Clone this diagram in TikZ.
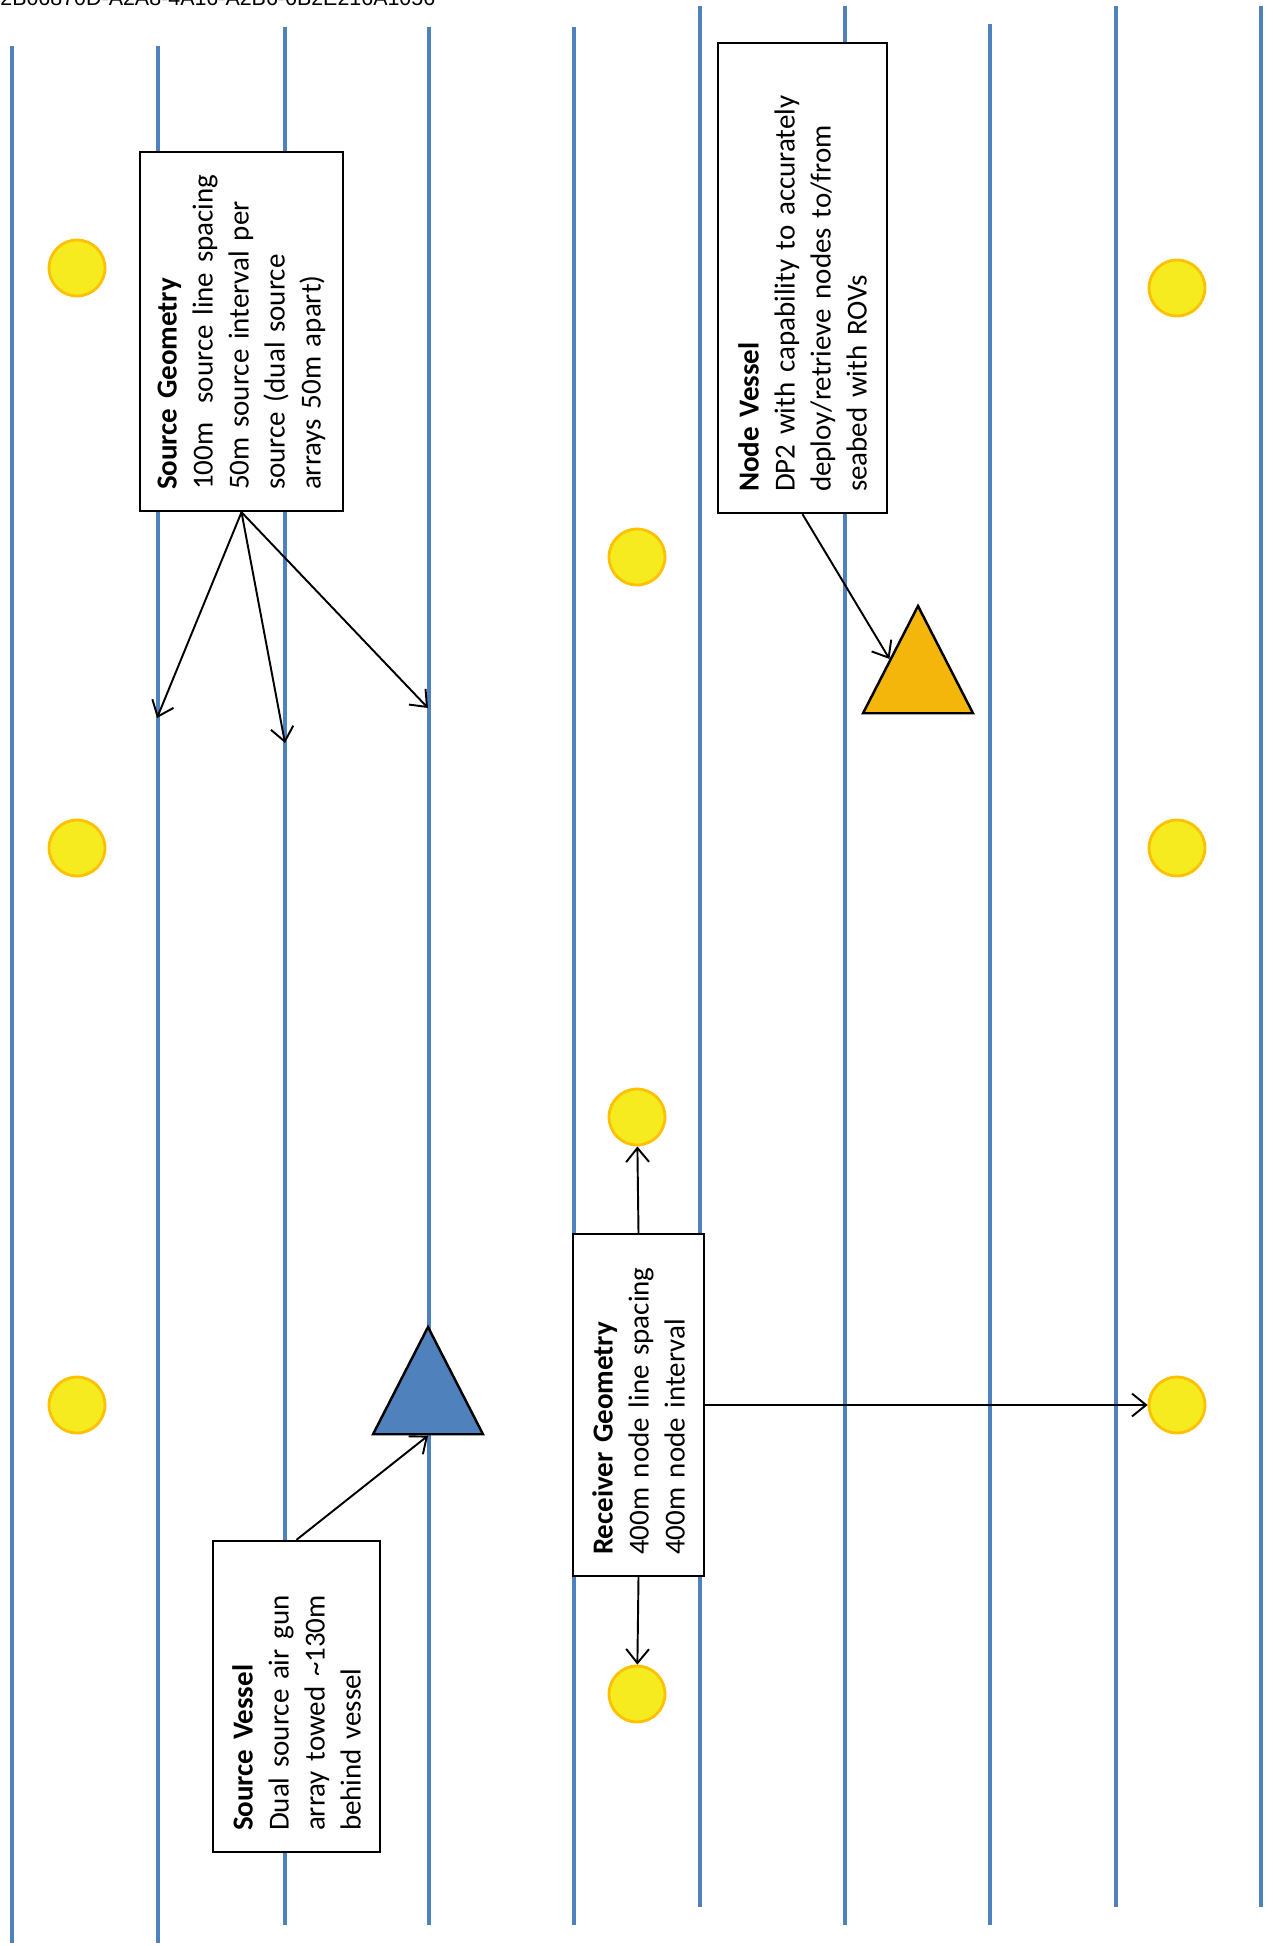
\documentclass[tikz,border=0pt]{standalone}
\usepackage{fontspec}
\setmainfont{Carlito}
\newfontfamily\guidfont{Liberation Sans}
\usetikzlibrary{shapes.geometric,arrows.meta}

\definecolor{lineblue}{RGB}{79,129,189}
\definecolor{buoyyellow}{RGB}{245,235,30}
\definecolor{buoyorange}{RGB}{255,192,0}
\definecolor{vesselorange}{RGB}{245,182,12}

\tikzset{
  gridline/.style={lineblue, line width=2.6pt},
  buoy/.style={circle, fill=buoyyellow, draw=buoyorange, line width=1.6pt, minimum size=1.12cm, inner sep=0pt},
  infobox/.style={draw, fill=white, line width=1.4pt, rotate=90, align=left, inner xsep=0.42cm, inner ysep=0.1cm, font=\fontsize{16.5}{20.5}\selectfont},
  vessel/.style={regular polygon, regular polygon sides=3, draw, line width=1.4pt, minimum size=2.54cm, inner sep=0pt, yscale=1.126},
  arr/.style={line width=1.1pt, -{Straight Barb[length=8pt,width=13pt]}},
  guid/.style={font=\guidfont\fontsize{12.2}{14}\selectfont, inner sep=0pt}
}

\begin{document}
\begin{tikzpicture}[x=0.02cm, y=-0.02cm]
\useasboundingbox (0,0) rectangle (1273,1946);

\node[guid, anchor=base west] (guid) at (0,6) {2B06870D-A2A8-4A16-A2B6-6B2E216A1056};

% survey lines
\foreach \x/\ya/\yb in {12/46/1943, 158/46/1943, 285/27/1925, 429/27/1925, 574/27/1925,
                        700/6/1907, 845/6/1925, 990/24/1925, 1116/6/1907, 1261/6/1907}
  \draw[gridline] (\x,\ya) -- (\x,\yb);

% nodes on the seabed
\foreach \n/\x/\y in {1/77/268, 2/77/848, 3/77/1405,
                      4/637/557, 5/637/1117, 6/637/1694,
                      7/1177/288, 8/1177/848, 9/1177/1405}
  \node[buoy] (c\n) at (\x,\y) {};

% vessels
\node[vessel, fill=vesselorange] (otri) at (918,677.5) {};
\node[vessel, fill=lineblue] (btri) at (428,1398.5) {};

\node[infobox, text width=6.34cm, minimum height=4.06cm] (sgeo) at (241.5,331.5)
  {\textbf{Source Geometry}\\\mbox{100m\ \ source line spacing}\\50m source interval per\\source (dual source\\arrays 50m apart)};

\node[infobox, text width=8.56cm, minimum height=3.38cm] (nvessel) at (802.5,278)
  {\textbf{Node Vessel}\\DP2 with capability to accurately\\deploy/retrieve nodes to/from\\seabed with ROVs};

\node[infobox, text width=5.38cm, minimum height=3.34cm] (svessel) at (296.5,1696.5)
  {\textbf{Source Vessel}\\Dual source air gun\\array towed \textasciitilde130m\\behind vessel};

\node[infobox, text width=6.0cm, minimum height=2.62cm] (rgeo) at (638.5,1405)
  {\textbf{Receiver Geometry}\\400m node line spacing\\400m node interval};

\coordinate (sg1) at (157,718);
\coordinate (sg2) at (285,743);
\coordinate (sg3) at (428,708);

\draw[arr] (sgeo.west) -- (sg1);
\draw[arr] (sgeo.west) -- (sg2);
\draw[arr] (sgeo.west) -- (sg3);
\draw[arr] (nvessel.west) -- (otri.side 1);
\draw[arr] (svessel.east) -- (btri.side 2);
\draw[arr] (rgeo.east) -- (c5);
\draw[arr] (rgeo.west) -- (c6);
\draw[arr] (rgeo.south) -- (c9);

\end{tikzpicture}
\end{document}
